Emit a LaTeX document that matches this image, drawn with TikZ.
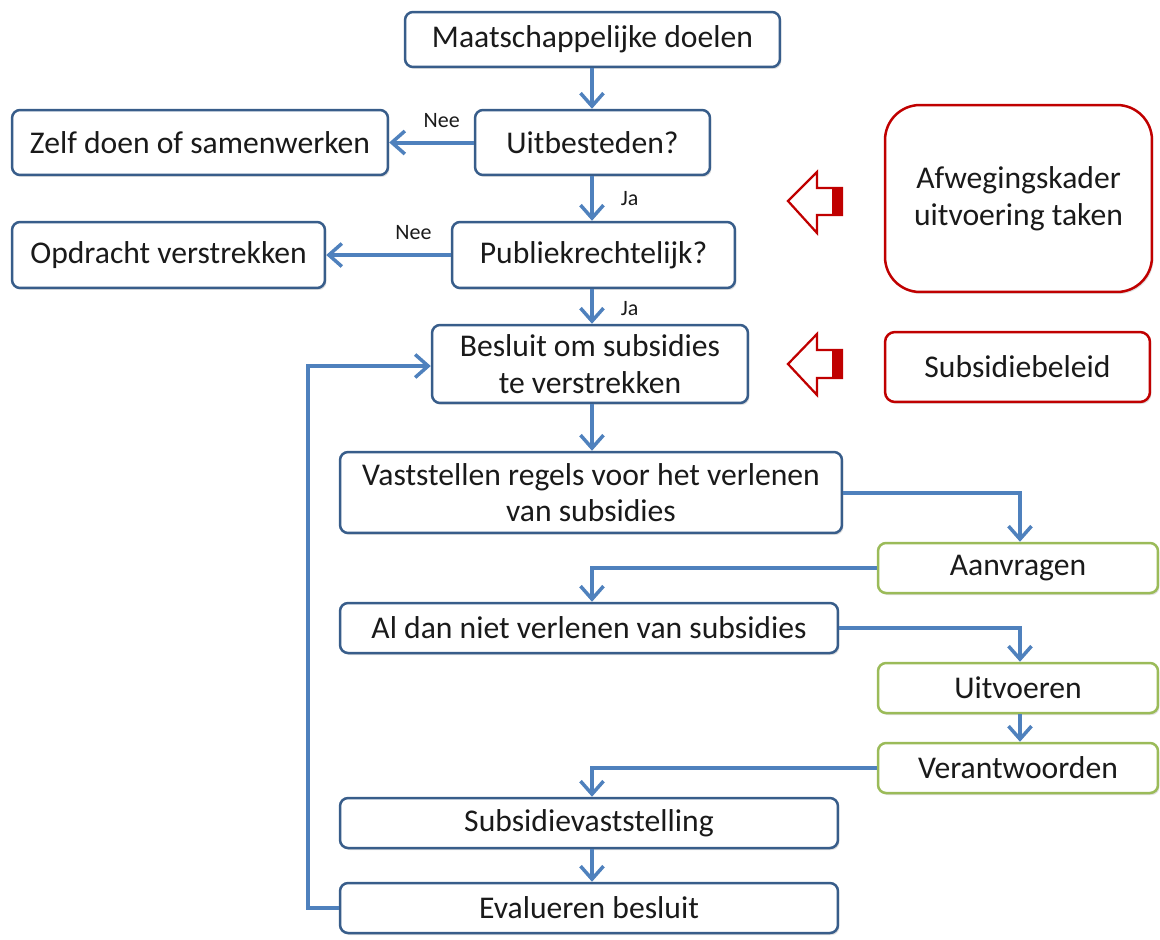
\documentclass[tikz,border=0pt]{standalone}
\usepackage{fontspec}
\setmainfont{Carlito}
\usetikzlibrary{arrows.meta,shadows}
\definecolor{lineblue}{HTML}{4F81BD}
\definecolor{boxblue}{HTML}{385D8A}
\definecolor{boxgreen}{HTML}{9BBB59}
\definecolor{boxred}{HTML}{C00000}
\definecolor{txt}{HTML}{1A1A1A}
\tikzset{
  box/.style={draw=boxblue, line width=0.05cm, rounded corners=0.16cm, fill=white,
    inner sep=0pt, align=center, text=txt, font=\fontsize{18}{20.8}\selectfont,
    drop shadow={shadow xshift=0.03cm, shadow yshift=-0.04cm, opacity=0.25, fill=gray}},
  gbox/.style={box, draw=boxgreen},
  rbox/.style={box, draw=boxred},
  conn/.style={draw=lineblue, line width=0.08cm,
    -{Straight Barb[length=0.26cm, width=0.46cm, line width=0.07cm]}},
  lab/.style={font=\fontsize{12.5}{14}\selectfont, text=txt},
  hollow/.style={draw=boxred, line width=0.045cm, fill=white, line join=miter},
}
\begin{document}
\begin{tikzpicture}[x=0.02cm, y=-0.02cm]
\useasboundingbox (0,0) rectangle (1160,940);
% nodes
\node[box, minimum width=7.5cm, minimum height=1.1cm] (md) at (592.5,39.5) {Maatschappelijke doelen};
\node[box, minimum width=4.7cm, minimum height=1.3cm] (uit) at (592.5,142.5) {Uitbesteden?};
\node[box, minimum width=7.52cm, minimum height=1.3cm] (zelf) at (200,142.5) {Zelf doen of samenwerken};
\node[box, minimum width=5.66cm, minimum height=1.32cm] (pub) at (593.5,255) {Publiekrechtelijk?};
\node[box, minimum width=6.26cm, minimum height=1.32cm] (opd) at (168.5,255) {Opdracht verstrekken};
\node[box, minimum width=6.32cm, minimum height=1.56cm] (bes) at (590,364) {Besluit om subsidies\\te verstrekken};
\node[rbox, rounded corners=0.7cm, minimum width=5.34cm, minimum height=3.74cm] (afw) at (1018.5,198.5) {Afwegingskader\\uitvoering taken};
\node[rbox, rounded corners=0.2cm, minimum width=5.3cm, minimum height=1.4cm] (sub) at (1017.5,367) {Subsidiebeleid};
\node[box, minimum width=10.04cm, minimum height=1.62cm] (vas) at (591,492.5) {Vaststellen regels voor het verlenen\\van subsidies};
\node[gbox, minimum width=5.6cm, minimum height=1.0cm] (aan) at (1018,568) {Aanvragen};
\node[box, minimum width=9.96cm, minimum height=1.0cm] (al) at (589,628) {Al dan niet verlenen van subsidies};
\node[gbox, minimum width=5.6cm, minimum height=1.0cm] (uitv) at (1018,688) {Uitvoeren};
\node[gbox, minimum width=5.6cm, minimum height=1.0cm] (ver) at (1018,768) {Verantwoorden};
\node[box, minimum width=9.96cm, minimum height=1.0cm] (sv) at (589,823) {Subsidievaststelling};
\node[box, minimum width=9.96cm, minimum height=1.0cm] (ev) at (589,908) {Evalueren besluit};
% connectors
\draw[conn] (md.south -| 592,0) -- (uit.north -| 592,0);
\draw[conn] (uit.west) -- (zelf.east) node[lab, pos=0.38, above=4pt] {Nee};
\draw[conn] (uit.south -| 592,0) -- (pub.north -| 592,0) node[lab, pos=0.5, right=12pt] {Ja};
\draw[conn] (pub.west) -- (opd.east) node[lab, pos=0.3, above=4pt] {Nee};
\draw[conn] (pub.south -| 592,0) -- (bes.north -| 592,0) node[lab, pos=0.55, right=12pt] {Ja};
\draw[conn] (bes.south -| 592,0) -- (vas.north -| 592,0);
\draw[conn] (vas.east) -- (1020,492.5) -- (aan.north -| 1020,0);
\draw[conn] (aan.west) -- (592,568) -- (al.north -| 592,0);
\draw[conn] (al.east) -- (1020,628) -- (uitv.north -| 1020,0);
\draw[conn] (uitv.south -| 1020,0) -- (ver.north -| 1020,0);
\draw[conn] (ver.west) -- (592,768) -- (sv.north -| 592,0);
\draw[conn] (sv.south -| 592,0) -- (ev.north -| 592,0);
\coordinate (lb) at (308,908);
\coordinate (lt) at (308,366);
\draw[conn] (ev.west) -- (lb) -- (lt) -- (lt -| bes.west);
% hollow red arrows
\draw[hollow] (788,201) -- (817,172) -- (817,188) -- (842,188) -- (842,215) -- (817,215) -- (817,233) -- cycle;
\fill[boxred] (832,188) rectangle (843,215);
\draw[hollow] (788,364) -- (817,334) -- (817,350) -- (842,350) -- (842,378) -- (817,378) -- (817,395) -- cycle;
\fill[boxred] (832,350) rectangle (843,378);
\end{tikzpicture}
\end{document}
